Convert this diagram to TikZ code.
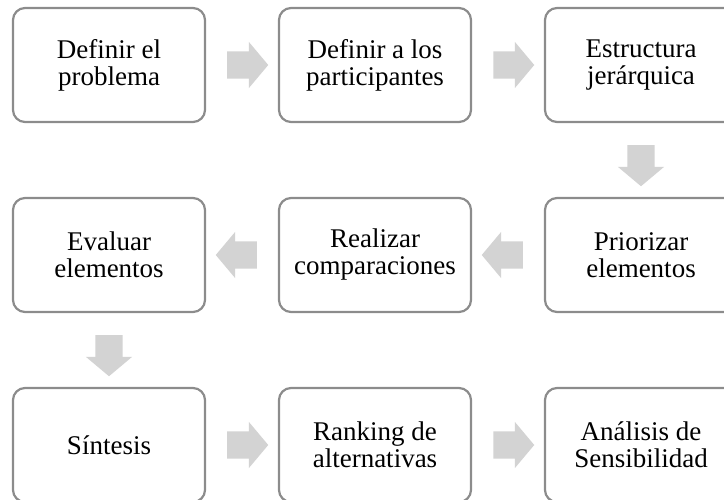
\documentclass[tikz,border=0pt]{standalone}
\usepackage{fontspec}
\setmainfont{Liberation Serif}
\usetikzlibrary{shapes.arrows, positioning, calc}
\definecolor{bordegris}{RGB}{140,140,140}
\definecolor{flechagris}{RGB}{211,211,211}

\begin{document}
\begin{tikzpicture}[x=1pt, y=1pt,
      paso/.style={rectangle, draw=bordegris, line width=2.2pt,
          rounded corners=12pt, minimum width=192pt, minimum height=114pt,
          align=center, outer sep=0pt,
          font=\fontsize{27pt}{27pt}\selectfont},
      flecha/.style={single arrow, fill=flechagris, draw=none,
          minimum height=41pt, inner sep=13.5pt,
          single arrow head extend=9.5pt, single arrow tip angle=100}]
    \clip (0,0) rectangle (724,-500);
    % fila 1
    \node[paso] (def) at (109,-65) {Definir el\\problema};
    \node[paso, right=74pt of def] (part) {Definir a los\\participantes};
    \node[paso, right=74pt of part] (jer) {Estructura\\jerárquica};
    % fila 2
    \node[paso, below=76pt of jer] (prio) {Priorizar\\elementos};
    \node[paso, left=74pt of prio] (comp) {Realizar\\comparaciones};
    \node[paso, left=74pt of comp] (eval) {Evaluar\\elementos};
    % fila 3
    \node[paso, below=76pt of eval] (sint) {Síntesis};
    \node[paso, right=74pt of sint] (rank) {Ranking de\\alternativas};
    \node[paso, right=74pt of rank] (sens) {Análisis de\\Sensibilidad};
    % flechas
    \node[flecha] (f1) at ($(def.east)!0.5!(part.west)$) {};
    \node[flecha] (f2) at ($(part.east)!0.5!(jer.west)$) {};
    \node[flecha, shape border rotate=270] (f3) at ($(jer.south)!0.5!(prio.north)$) {};
    \node[flecha, shape border rotate=180] (f4) at ($(prio.west)!0.5!(comp.east)$) {};
    \node[flecha, shape border rotate=180] (f5) at ($(comp.west)!0.5!(eval.east)$) {};
    \node[flecha, shape border rotate=270] (f6) at ($(eval.south)!0.5!(sint.north)$) {};
    \node[flecha] (f7) at ($(sint.east)!0.5!(rank.west)$) {};
    \node[flecha] (f8) at ($(rank.east)!0.5!(sens.west)$) {};
\end{tikzpicture}
\end{document}
